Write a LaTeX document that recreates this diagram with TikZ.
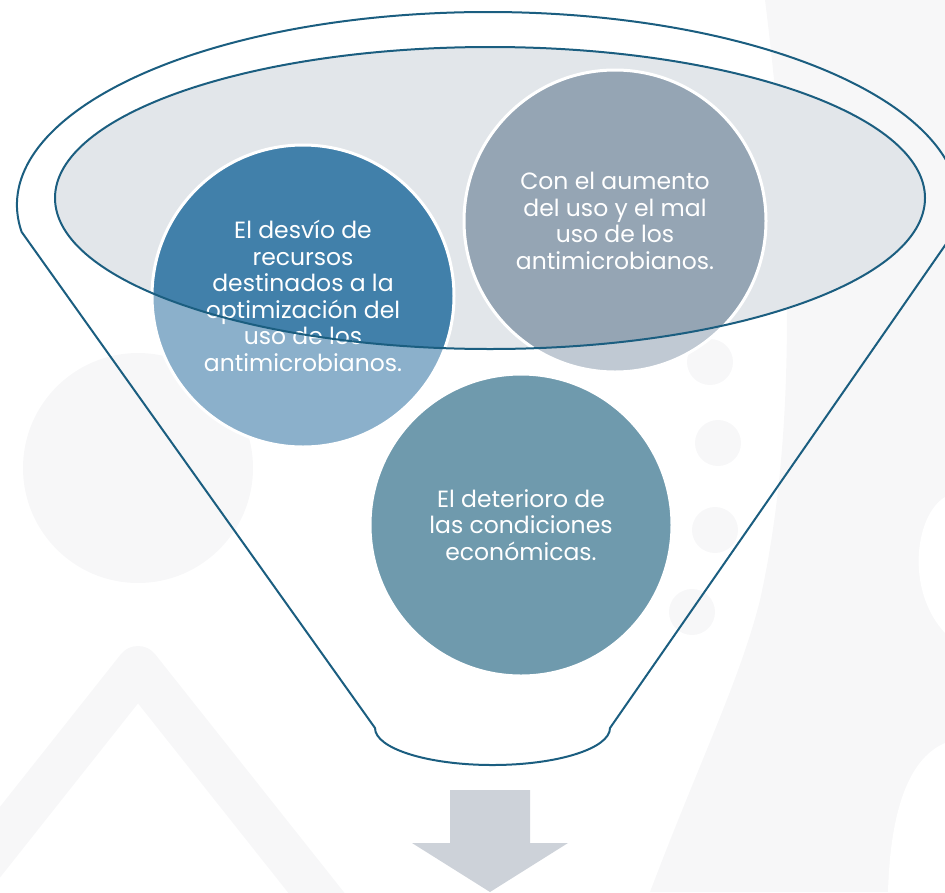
\documentclass[tikz,border=0pt]{standalone}
\usepackage{fontspec}
\setmainfont{Poppins}
\usetikzlibrary{positioning}

\definecolor{embudo}{HTML}{1B5E80}
\definecolor{boca}{HTML}{E2E6EA}
\definecolor{desvioOsc}{HTML}{4180AA}
\definecolor{desvioCla}{HTML}{8BB0CB}
\definecolor{aumentoOsc}{HTML}{95A5B4}
\definecolor{aumentoCla}{HTML}{C0C9D3}
\definecolor{deteriorocol}{HTML}{6F9AAD}
\definecolor{flecha}{HTML}{CDD2D9}
\definecolor{marca}{HTML}{F7F7F8}

\tikzset{
  texto/.style={text=white, align=center, inner sep=0pt,
    font=\fontsize{23.5}{26.5}\selectfont},
  borde/.style={draw=white, line width=3pt},
  linea/.style={draw=embudo, line width=2pt}
}

\begin{document}
\begin{tikzpicture}[x=1pt,y=-1pt]
		\useasboundingbox (0,0) rectangle (945,892);
		\clip (0,0) rectangle (945,892);

		% Watermark
		\fill[marca] (138,468) circle (115);
		\draw[marca, line width=44pt, line join=round] (-30,880) -- (138,668) -- (330,910);
		\fill[marca] (710,362) circle (23);
		\fill[marca] (718,443) circle (23);
		\fill[marca] (715,530) circle (23);
		\fill[marca] (692,612) circle (23);
		\fill[marca] (765,0) .. controls (790,200) and (800,420) .. (760,600)
			.. controls (740,680) and (700,760) .. (650,892) -- (945,892) -- (945,0) -- cycle;
		\fill[white] (945,497) .. controls (915,515) and (905,590) .. (945,633) -- cycle;
		\fill[white] (945,743) .. controls (905,760) and (890,820) .. (888,892) -- (945,892) -- cycle;

		% Mouth of the funnel
		\coordinate (boca) at (490,198);
		\fill[boca] (boca) ellipse [x radius=435, y radius=151];

		% Circles
		\coordinate (desvio) at (303,296);
		\coordinate (aumento) at (615,221);
		\coordinate (deterioro) at (521,525);
		\fill[desvioCla] (desvio) circle (151);
		\fill[aumentoCla] (aumento) circle (151);
		\begin{scope}
			\clip (boca) ellipse [x radius=435, y radius=151];
			\fill[desvioOsc] (desvio) circle (151);
			\fill[aumentoOsc] (aumento) circle (151);
		\end{scope}
		\fill[deteriorocol] (deterioro) circle (151);
		\draw[borde] (desvio) circle (151);
		\draw[borde] (aumento) circle (151);
		\draw[borde] (deterioro) circle (151);

		% Labels
		\node[texto] (tdesvio) at (desvio) {El desvío de\\recursos\\destinados a la\\optimización del\\uso de los\\antimicrobianos.};
		\node[texto] (taumento) at (aumento) {Con el aumento\\del uso y el mal\\uso de los\\antimicrobianos.};
		\node[texto] (tdeterioro) at (deterioro) {El deterioro de\\las condiciones\\económicas.};

		% Funnel outline
		\draw[linea] (boca) ellipse [x radius=435, y radius=151];
		\draw[linea] (488,205) ++(172:471 and 193)
			arc[start angle=172, end angle=368, x radius=471, y radius=193]
			-- (610,728)
			arc[start angle=0, end angle=180, x radius=117.5, y radius=37]
			-- cycle;

		% Arrow
		\fill[flecha] (450,790) -- (530,790) -- (530,843) -- (568,843)
			-- (490,892) -- (412,843) -- (450,843) -- cycle;
	\end{tikzpicture}
\end{document}
